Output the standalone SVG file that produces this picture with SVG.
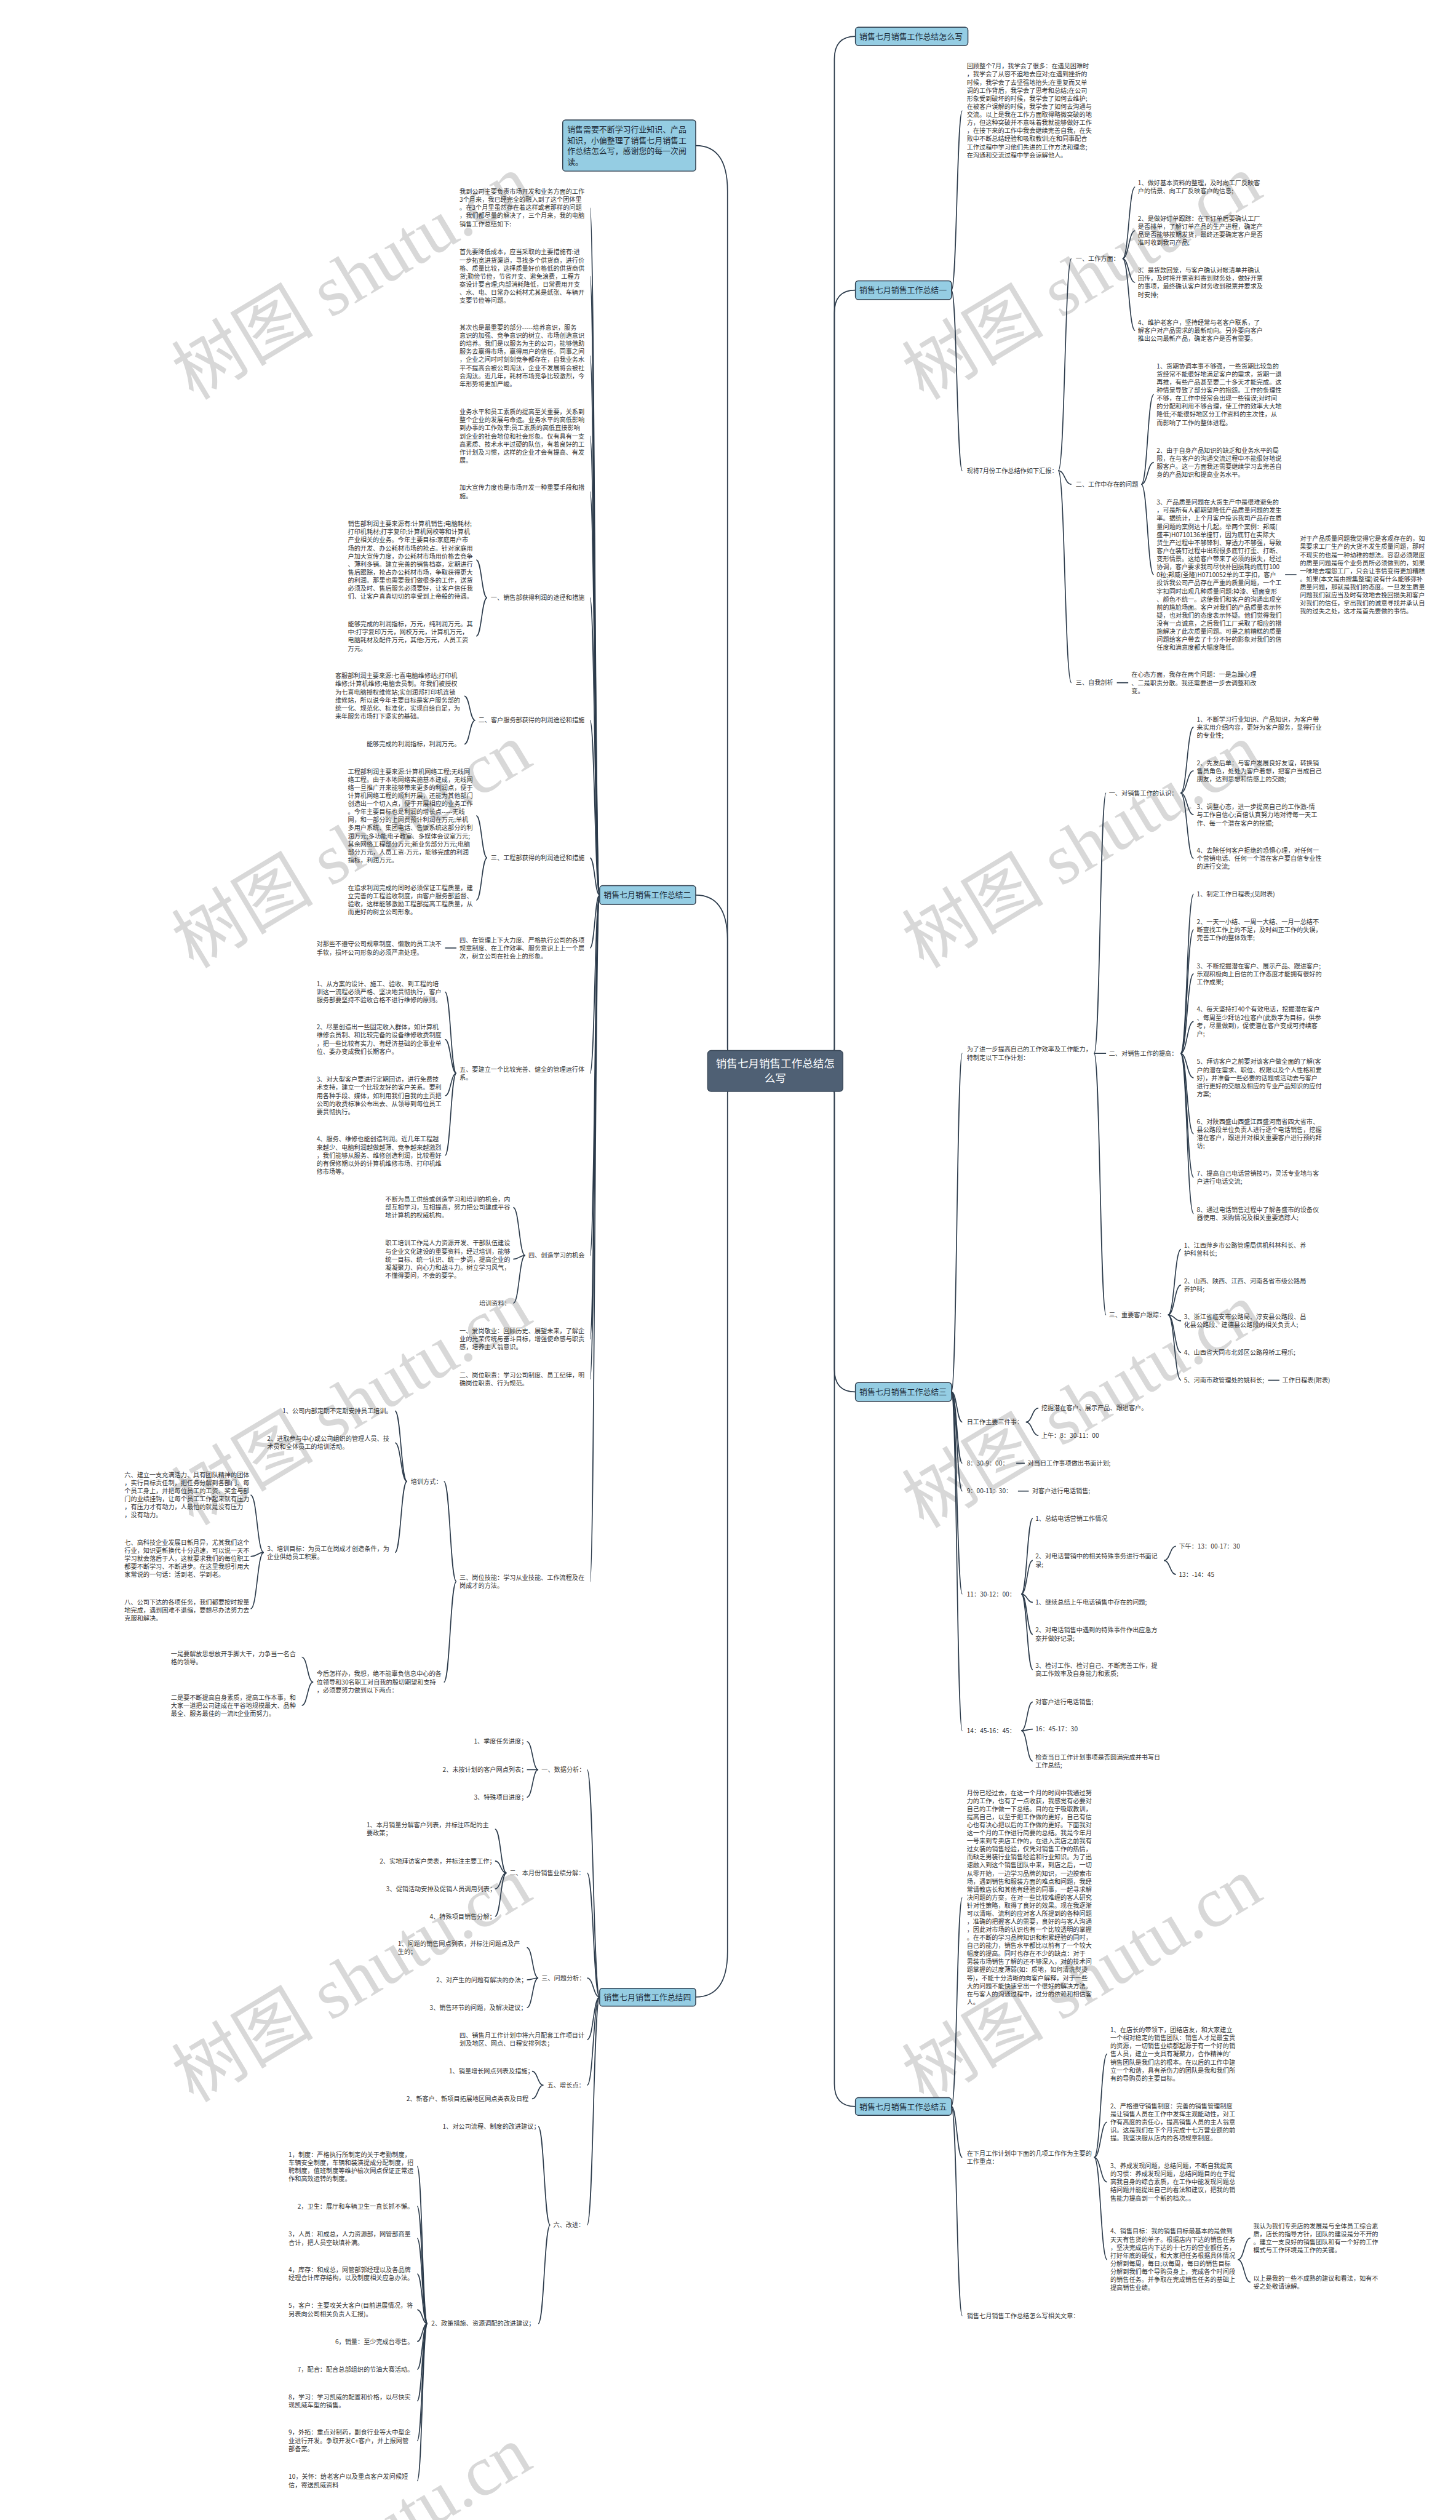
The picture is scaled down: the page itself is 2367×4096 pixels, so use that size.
<svg xmlns="http://www.w3.org/2000/svg" width="2367" height="4096" viewBox="0 0 2367 4096">
<defs><style>
.t{font-family:"Noto Sans CJK SC","Noto Sans",sans-serif;font-size:11px;fill:#333}
.bt{font-family:"Noto Sans CJK SC","Noto Sans",sans-serif;font-size:14px;fill:#1d2b38}
.rt{font-family:"Noto Sans CJK SC","Noto Sans",sans-serif;font-size:19px;fill:#fff}
.box{fill:#95CDE3;stroke:#2C3B4B;stroke-width:1.6}
.c path{fill:none;stroke:#2C3B4B;stroke-width:1.8}
.wm{font-family:"Liberation Serif","Noto Sans CJK SC",serif;font-size:125px;fill:#d8d8d8}
</style></defs>
<rect width="2367" height="4096" fill="#fff"/>
<g transform="scale(0.924)">
<g id="watermarks">
<text class="wm" transform="translate(340 705) rotate(-31)">树图 shutu.cn</text>
<text class="wm" transform="translate(340 1705) rotate(-31)">树图 shutu.cn</text>
<text class="wm" transform="translate(340 2685) rotate(-31)">树图 shutu.cn</text>
<text class="wm" transform="translate(340 3700) rotate(-31)">树图 shutu.cn</text>
<text class="wm" transform="translate(340 4700) rotate(-31)">树图 shutu.cn</text>
<text class="wm" transform="translate(1625 705) rotate(-31)">树图 shutu.cn</text>
<text class="wm" transform="translate(1625 1705) rotate(-31)">树图 shutu.cn</text>
<text class="wm" transform="translate(1625 2690) rotate(-31)">树图 shutu.cn</text>
<text class="wm" transform="translate(1625 3700) rotate(-31)">树图 shutu.cn</text>
</g>
<g id="connectors" class="c">
<path d="M1420 1884 Q1468 1884 1468 1844 L1468 104 Q1468 64 1505 64"/>
<path d="M1420 1884 Q1468 1884 1468 1844 L1468 550.5 Q1468 510.5 1505 510.5"/>
<path d="M1420 1884 Q1468 1884 1468 1924 L1468 2408.5 Q1468 2448.5 1505 2448.5"/>
<path d="M1420 1884 Q1468 1884 1468 1924 L1468 3665.5 Q1468 3705.5 1505 3705.5"/>
<path d="M1310 1884 Q1280 1884 1280 1844 L1280 336 Q1280 256 1224 256"/>
<path d="M1310 1884 Q1280 1884 1280 1844 L1280 1654.5 Q1280 1574.5 1224 1574.5"/>
<path d="M1310 1884 Q1280 1884 1280 1924 L1280 3433 Q1280 3513 1224 3513"/>
<path d="M1674 510.5 C1683.5 510.5 1683.5 195 1693 195"/>
<path d="M1674 510.5 C1683.5 510.5 1683.5 828 1693 828"/>
<path d="M1862 828 C1873.5 828 1873.5 455 1885 455"/>
<path d="M1862 828 C1873.5 828 1873.5 852 1885 852"/>
<path d="M1862 828 C1873.5 828 1873.5 1201 1885 1201"/>
<path d="M1975 455 C1986 455 1986 329 1997 329"/>
<path d="M1975 455 C1986 455 1986 405.8 1997 405.8"/>
<path d="M1975 455 C1986 455 1986 496.8 1997 496.8"/>
<path d="M1975 455 C1986 455 1986 581.4 1997 581.4"/>
<path d="M2008 852 C2019 852 2019 694 2030 694"/>
<path d="M2008 852 C2019 852 2019 813.5 2030 813.5"/>
<path d="M2008 852 C2019 852 2019 1011 2030 1011"/>
<path d="M2261 1011 L2281 1011"/>
<path d="M1965 1201 L1985 1201"/>
<path d="M1674 2448.5 C1683.5 2448.5 1683.5 1853 1693 1853"/>
<path d="M1674 2448.5 C1683.5 2448.5 1683.5 2501.6 1693 2501.6"/>
<path d="M1674 2448.5 C1683.5 2448.5 1683.5 2574 1693 2574"/>
<path d="M1674 2448.5 C1683.5 2448.5 1683.5 2623 1693 2623"/>
<path d="M1674 2448.5 C1683.5 2448.5 1683.5 2804 1693 2804"/>
<path d="M1674 2448.5 C1683.5 2448.5 1683.5 3044.5 1693 3044.5"/>
<path d="M1925 1853 C1935.5 1853 1935.5 1395 1946 1395"/>
<path d="M1925 1853 L1946 1853"/>
<path d="M1925 1853 C1935.5 1853 1935.5 2313 1946 2313"/>
<path d="M2077 1395 C2088.5 1395 2088.5 1279 2100 1279"/>
<path d="M2077 1395 C2088.5 1395 2088.5 1356 2100 1356"/>
<path d="M2077 1395 C2088.5 1395 2088.5 1433 2100 1433"/>
<path d="M2077 1395 C2088.5 1395 2088.5 1510 2100 1510"/>
<path d="M2077 1853 C2088.5 1853 2088.5 1573 2100 1573"/>
<path d="M2077 1853 C2088.5 1853 2088.5 1635.5 2100 1635.5"/>
<path d="M2077 1853 C2088.5 1853 2088.5 1713 2100 1713"/>
<path d="M2077 1853 C2088.5 1853 2088.5 1797 2100 1797"/>
<path d="M2077 1853 C2088.5 1853 2088.5 1896 2100 1896"/>
<path d="M2077 1853 C2088.5 1853 2088.5 1994.5 2100 1994.5"/>
<path d="M2077 1853 C2088.5 1853 2088.5 2071 2100 2071"/>
<path d="M2077 1853 C2088.5 1853 2088.5 2135 2100 2135"/>
<path d="M2055 2313 C2066.5 2313 2066.5 2197.5 2078 2197.5"/>
<path d="M2055 2313 C2066.5 2313 2066.5 2260.5 2078 2260.5"/>
<path d="M2055 2313 C2066.5 2313 2066.5 2323.5 2078 2323.5"/>
<path d="M2055 2313 C2066.5 2313 2066.5 2379.3 2078 2379.3"/>
<path d="M2055 2313 C2066.5 2313 2066.5 2428 2078 2428"/>
<path d="M2231 2428 L2251 2428"/>
<path d="M1805 2501.6 C1816 2501.6 1816 2477 1827 2477"/>
<path d="M1805 2501.6 C1816 2501.6 1816 2525 1827 2525"/>
<path d="M1788 2574 L1803 2574"/>
<path d="M1791 2623 L1810 2623"/>
<path d="M1797 2804 C1807 2804 1807 2671 1817 2671"/>
<path d="M1797 2804 C1807 2804 1807 2745 1817 2745"/>
<path d="M1797 2804 C1807 2804 1807 2818.6 1817 2818.6"/>
<path d="M1797 2804 C1807 2804 1807 2875 1817 2875"/>
<path d="M1797 2804 C1807 2804 1807 2937 1817 2937"/>
<path d="M2048 2745 C2058.5 2745 2058.5 2720 2069 2720"/>
<path d="M2048 2745 C2058.5 2745 2058.5 2769.5 2069 2769.5"/>
<path d="M1797 3044.5 C1807 3044.5 1807 2994 1817 2994"/>
<path d="M1797 3044.5 C1807 3044.5 1807 3041.8 1817 3041.8"/>
<path d="M1797 3044.5 C1807 3044.5 1807 3098 1817 3098"/>
<path d="M1674 3705.5 C1683.5 3705.5 1683.5 3338 1693 3338"/>
<path d="M1674 3705.5 C1683.5 3705.5 1683.5 3795 1693 3795"/>
<path d="M1674 3705.5 C1683.5 3705.5 1683.5 4073.5 1693 4073.5"/>
<path d="M1925 3795 C1936.5 3795 1936.5 3613 1948 3613"/>
<path d="M1925 3795 C1936.5 3795 1936.5 3733 1948 3733"/>
<path d="M1925 3795 C1936.5 3795 1936.5 3838.4 1948 3838.4"/>
<path d="M1925 3795 C1936.5 3795 1936.5 3975 1948 3975"/>
<path d="M2178 3975 C2189 3975 2189 3937 2200 3937"/>
<path d="M2178 3975 C2189 3975 2189 4014.5 2200 4014.5"/>
<path d="M1055 1574.5 C1046.5 1574.5 1046.5 366 1038 366"/>
<path d="M1055 1574.5 C1046.5 1574.5 1046.5 486 1038 486"/>
<path d="M1055 1574.5 C1046.5 1574.5 1046.5 626 1038 626"/>
<path d="M1055 1574.5 C1046.5 1574.5 1046.5 767 1038 767"/>
<path d="M1055 1574.5 C1046.5 1574.5 1046.5 865 1038 865"/>
<path d="M1055 1574.5 C1046.5 1574.5 1046.5 1051.6 1038 1051.6"/>
<path d="M1055 1574.5 C1046.5 1574.5 1046.5 1267 1038 1267"/>
<path d="M1055 1574.5 C1046.5 1574.5 1046.5 1509 1038 1509"/>
<path d="M1055 1574.5 C1046.5 1574.5 1046.5 1667.6 1038 1667.6"/>
<path d="M1055 1574.5 C1046.5 1574.5 1046.5 1888 1038 1888"/>
<path d="M1055 1574.5 C1046.5 1574.5 1046.5 2208.5 1038 2208.5"/>
<path d="M1055 1574.5 C1046.5 1574.5 1046.5 2355.5 1038 2355.5"/>
<path d="M1055 1574.5 C1046.5 1574.5 1046.5 2426 1038 2426"/>
<path d="M1055 1574.5 C1046.5 1574.5 1046.5 2782 1038 2782"/>
<path d="M857 1051.6 C847.5 1051.6 847.5 985 838 985"/>
<path d="M857 1051.6 C847.5 1051.6 847.5 1119 838 1119"/>
<path d="M836 1267 C826.5 1267 826.5 1224.5 817 1224.5"/>
<path d="M836 1267 C826.5 1267 826.5 1309 817 1309"/>
<path d="M857 1509 C847.5 1509 847.5 1435 838 1435"/>
<path d="M857 1509 C847.5 1509 847.5 1583.5 838 1583.5"/>
<path d="M803 1667.6 L783 1667.6"/>
<path d="M803 1888 C793 1888 793 1745 783 1745"/>
<path d="M803 1888 C793 1888 793 1828.5 783 1828.5"/>
<path d="M803 1888 C793 1888 793 1927.5 783 1927.5"/>
<path d="M803 1888 C793 1888 793 2032.5 783 2032.5"/>
<path d="M924 2208.5 C913.5 2208.5 913.5 2124 903 2124"/>
<path d="M924 2208.5 C913.5 2208.5 913.5 2215 903 2215"/>
<path d="M924 2208.5 C913.5 2208.5 913.5 2292.5 903 2292.5"/>
<path d="M803 2782 C792 2782 792 2606 781 2606"/>
<path d="M803 2782 C792 2782 792 2959 781 2959"/>
<path d="M716 2606 C705.5 2606 705.5 2482 695 2482"/>
<path d="M716 2606 C705.5 2606 705.5 2538 695 2538"/>
<path d="M716 2606 C705.5 2606 705.5 2731 695 2731"/>
<path d="M464 2731 C452.5 2731 452.5 2630 441 2630"/>
<path d="M464 2731 C452.5 2731 452.5 2738 441 2738"/>
<path d="M464 2731 C452.5 2731 452.5 2830 441 2830"/>
<path d="M551 2959 C541 2959 541 2915 531 2915"/>
<path d="M551 2959 C541 2959 541 3000 531 3000"/>
<path d="M1055 3513 C1044 3513 1044 3113 1033 3113"/>
<path d="M1055 3513 C1044 3513 1044 3294.7 1033 3294.7"/>
<path d="M1055 3513 C1044 3513 1044 3479.5 1033 3479.5"/>
<path d="M1055 3513 C1044 3513 1044 3588 1033 3588"/>
<path d="M1055 3513 C1044 3513 1044 3668 1033 3668"/>
<path d="M1055 3513 C1044 3513 1044 3914 1033 3914"/>
<path d="M947 3113 C937 3113 937 3063.6 927 3063.6"/>
<path d="M947 3113 L927 3113"/>
<path d="M947 3113 C937 3113 937 3161.6 927 3161.6"/>
<path d="M891 3294.7 C881 3294.7 881 3217.6 871 3217.6"/>
<path d="M891 3294.7 C881 3294.7 881 3273.6 871 3273.6"/>
<path d="M891 3294.7 C881 3294.7 881 3322.6 871 3322.6"/>
<path d="M891 3294.7 C881 3294.7 881 3371 871 3371"/>
<path d="M947 3479.5 C937 3479.5 937 3426 927 3426"/>
<path d="M947 3479.5 C937 3479.5 937 3482.7 927 3482.7"/>
<path d="M947 3479.5 C937 3479.5 937 3531.7 927 3531.7"/>
<path d="M956 3668 C946 3668 946 3643.6 936 3643.6"/>
<path d="M956 3668 C946 3668 946 3692 936 3692"/>
<path d="M968 3914 C957.5 3914 957.5 3741 947 3741"/>
<path d="M968 3914 C957.5 3914 957.5 4087.4 947 4087.4"/>
<path d="M752 4087.4 C743 4087.4 743 3811 734 3811"/>
<path d="M752 4087.4 C743 4087.4 743 3881 734 3881"/>
<path d="M752 4087.4 C743 4087.4 743 3937.5 734 3937.5"/>
<path d="M752 4087.4 C743 4087.4 743 4000 734 4000"/>
<path d="M752 4087.4 C743 4087.4 743 4063 734 4063"/>
<path d="M752 4087.4 C743 4087.4 743 4119 734 4119"/>
<path d="M752 4087.4 C743 4087.4 743 4168 734 4168"/>
<path d="M752 4087.4 C743 4087.4 743 4223.5 734 4223.5"/>
<path d="M752 4087.4 C743 4087.4 743 4293.5 734 4293.5"/>
<path d="M752 4087.4 C743 4087.4 743 4364 734 4364"/>
</g>

<g id="root"><rect x="1245" y="1848" width="238" height="72" rx="6" fill="#4F6074" stroke="#3A4858" stroke-width="1.5"/><text class="rt" text-anchor="middle"><tspan x="1364" y="1878">销售七月销售工作总结怎</tspan><tspan x="1364" y="1904">么写</tspan></text></g>
<g id="b-howto"><rect class="box" x="1505" y="48" width="198" height="32" rx="5"/><text class="bt" x="1512" y="69">销售七月销售工作总结怎么写</text></g>
<g id="b1"><rect class="box" x="1505" y="494" width="169" height="33" rx="5"/><text class="bt" x="1512" y="515.5">销售七月销售工作总结一</text></g>
<g id="b3"><rect class="box" x="1505" y="2432" width="169" height="33" rx="5"/><text class="bt" x="1512" y="2453.5">销售七月销售工作总结三</text></g>
<g id="b5"><rect class="box" x="1505" y="3690" width="169" height="31" rx="5"/><text class="bt" x="1512" y="3710.5">销售七月销售工作总结五</text></g>
<g id="b2"><rect class="box" x="1055" y="1558" width="169" height="33" rx="5"/><text class="bt" x="1062" y="1579.5">销售七月销售工作总结二</text></g>
<g id="b4"><rect class="box" x="1055" y="3497.5" width="169" height="31.5" rx="5"/><text class="bt" x="1062" y="3518">销售七月销售工作总结四</text></g>
<g id="intro-box"><rect class="box" x="990" y="211" width="234" height="90" rx="5"/><text class="bt"><tspan x="998" y="233">销售需要不断学习行业知识、产品</tspan><tspan x="998" y="252">知识，小偏整理了销售七月销售工</tspan><tspan x="998" y="271">作总结怎么写，感谢您的每一次阅</tspan><tspan x="998" y="290">读。</tspan></text></g>

<g id="r1-intro"><text class="t" x="1701" y="120.5"><tspan>回顾整个7月，我学会了很多：在遇见困难时</tspan><tspan x="1701" dy="14.2">，我学会了从容不迫地去应对;在遇到挫折的</tspan><tspan x="1701" dy="14.2">时候，我学会了去坚强地抬头;在重复而又单</tspan><tspan x="1701" dy="14.2">调的工作背后，我学会了思考和总结;在公司</tspan><tspan x="1701" dy="14.2">形象受到破坏的时候，我学会了如何去维护;</tspan><tspan x="1701" dy="14.2">在被客户误解的时候，我学会了如何去沟通与</tspan><tspan x="1701" dy="14.2">交流。以上是我在工作方面取得略微突破的地</tspan><tspan x="1701" dy="14.2">方，但这种突破并不意味着我就能够做好工作</tspan><tspan x="1701" dy="14.2">，在接下来的工作中我会继续完善自我，在失</tspan><tspan x="1701" dy="14.2">败中不断总结经验和吸取教训;在和同事配合</tspan><tspan x="1701" dy="14.2">工作过程中学习他们先进的工作方法和理念;</tspan><tspan x="1701" dy="14.2">在沟通和交流过程中学会谅解他人。</tspan></text></g>
<g id="r1-report"><text class="t" x="1701" y="832.4">现将7月份工作总结作如下汇报：</text></g>
<g id="r1-a"><text class="t" x="1892.6" y="459">一、工作方面：</text></g>
<g id="r1-a1"><text class="t" x="2002" y="326"><tspan>1、做好基本资料的整理，及时向工厂反映客</tspan><tspan x="2002" dy="14.2">户的情景、向工厂反映客户的信息;</tspan></text></g>
<g id="r1-a2"><text class="t" x="2002" y="388.6"><tspan>2、是做好订单跟踪：在下订单后要确认工厂</tspan><tspan x="2002" dy="14.2">是否排单，了解订单产品的生产进程，确定产</tspan><tspan x="2002" dy="14.2">品是否能够按期发货，最终还要确定客户是否</tspan><tspan x="2002" dy="14.2">准时收到我司产品;</tspan></text></g>
<g id="r1-a3"><text class="t" x="2002" y="479.6"><tspan>3、是货款回笼，与客户确认对帐清单并确认</tspan><tspan x="2002" dy="14.2">回传，及时将开票资料寄到财务处，做好开票</tspan><tspan x="2002" dy="14.2">的事项，最终确认客户财务收到税票并要求及</tspan><tspan x="2002" dy="14.2">时安排;</tspan></text></g>
<g id="r1-a4"><text class="t" x="2002" y="571"><tspan>4、维护老客户，坚持经常与老客户联系，了</tspan><tspan x="2002" dy="14.2">解客户对产品需求的最新动向。另外要向客户</tspan><tspan x="2002" dy="14.2">推出公司最新产品，确定客户是否有需要。</tspan></text></g>
<g id="r1-b"><text class="t" x="1892.6" y="855.6">二、工作中存在的问题</text></g>
<g id="r1-b1"><text class="t" x="2035" y="648"><tspan>1、货期协调本事不够强，一些货期比较急的</tspan><tspan x="2035" dy="14.2">货经常不能很好地满足客户的需求，货期一退</tspan><tspan x="2035" dy="14.2">再推，有些产品甚至要二十多天才能完成。这</tspan><tspan x="2035" dy="14.2">种情景导致了部分客户的抱怨。工作的条理性</tspan><tspan x="2035" dy="14.2">不够，在工作中经常会出现一些错误;对时间</tspan><tspan x="2035" dy="14.2">的分配和利用不够合理，使工作的效率大大地</tspan><tspan x="2035" dy="14.2">降低;不能很好地区分工作资料的主次性，从</tspan><tspan x="2035" dy="14.2">而影响了工作的整体进程。</tspan></text></g>
<g id="r1-b2"><text class="t" x="2035" y="796"><tspan>2、由于自身产品知识的缺乏和业务水平的局</tspan><tspan x="2035" dy="14.2">限，在与客户的沟通交流过程中不能很好地说</tspan><tspan x="2035" dy="14.2">服客户。这一方面我还需要继续学习去完善自</tspan><tspan x="2035" dy="14.2">身的产品知识和提高业务水平。</tspan></text></g>
<g id="r1-b3"><text class="t" x="2035" y="887.7"><tspan>3、产品质量问题在大货生产中是很难避免的</tspan><tspan x="2035" dy="14.2">，可是所有人都期望降低产品质量问题的发生</tspan><tspan x="2035" dy="14.2">率。据统计，上个月客户投诉我司产品存在质</tspan><tspan x="2035" dy="14.2">量问题的案例达十几起。举两个案例：邦威(</tspan><tspan x="2035" dy="14.2">盛丰)H0710136单撞钉，因为底钉在实际大</tspan><tspan x="2035" dy="14.2">货生产过程中不够锋利、穿透力不够强，导致</tspan><tspan x="2035" dy="14.2">客户在装钉过程中出现很多底钉打歪、打断、</tspan><tspan x="2035" dy="14.2">变形情景。这给客户带来了必须的损失，经过</tspan><tspan x="2035" dy="14.2">协调，客户要求我司尽快补回损耗的底钉100</tspan><tspan x="2035" dy="14.2">0粒;邦威(圣隆)H0710052单的工字扣，客户</tspan><tspan x="2035" dy="14.2">投诉我公司产品存在严重的质量问题，一个工</tspan><tspan x="2035" dy="14.2">字扣同时出现几种质量问题:掉漆、钮面变形</tspan><tspan x="2035" dy="14.2">、颜色不统一。这使我们和客户的沟通出现空</tspan><tspan x="2035" dy="14.2">前的尴尬场面。客户对我们的产品质量表示怀</tspan><tspan x="2035" dy="14.2">疑，也对我们的态度表示怀疑。他们觉得我们</tspan><tspan x="2035" dy="14.2">没有一点诚意，之后我们工厂采取了相应的措</tspan><tspan x="2035" dy="14.2">施解决了此次质量问题。可是之前糟糕的质量</tspan><tspan x="2035" dy="14.2">问题给客户带去了十分不好的影象对我们的信</tspan><tspan x="2035" dy="14.2">任度和满意度都大幅度降低。</tspan></text></g>
<g id="r1-b3a"><text class="t" x="2287" y="951.6"><tspan>对于产品质量问题我觉得它是客观存在的，如</tspan><tspan x="2287" dy="14.2">果要求工厂生产的大货不发生质量问题，那时</tspan><tspan x="2287" dy="14.2">不现实的也是一种幼稚的想法。容忍必须限度</tspan><tspan x="2287" dy="14.2">的质量问题是每个业务员所必须做到的，如果</tspan><tspan x="2287" dy="14.2">一味地去埋怨工厂，只会让事情变得更加糟糕</tspan><tspan x="2287" dy="14.2">。如果(本文是由搜集整理)说有什么能够弥补</tspan><tspan x="2287" dy="14.2">质量问题，那就是我们的态度。一旦发生质量</tspan><tspan x="2287" dy="14.2">问题我们就应当及时有效地去挽回损失和客户</tspan><tspan x="2287" dy="14.2">对我们的信任，拿出我们的诚意寻找并承认自</tspan><tspan x="2287" dy="14.2">我的过失之处，这才是首先要做的事情。</tspan></text></g>
<g id="r1-c"><text class="t" x="1892.6" y="1205">三、自我剖析</text></g>
<g id="r1-c1"><text class="t" x="1990.6" y="1191"><tspan>在心态方面，我存在两个问题：一是急躁心理</tspan><tspan x="1990.6" dy="14.2">、二是职责分散。我还需要进一步去调整和改</tspan><tspan x="1990.6" dy="14.2">变。</tspan></text></g>

<g id="r3-plan"><text class="t" x="1701" y="1850"><tspan>为了进一步提高自己的工作效率及工作能力，</tspan><tspan x="1701" dy="14.2">特制定以下工作计划：</tspan></text></g>
<g id="r3-a"><text class="t" x="1951" y="1399">一、对销售工作的认识：</text></g>
<g id="r3-a1"><text class="t" x="2105.6" y="1269"><tspan>1、不断学习行业知识、产品知识，为客户带</tspan><tspan x="2105.6" dy="14.2">来实用介绍内容，更好为客户服务，显得行业</tspan><tspan x="2105.6" dy="14.2">的专业性;</tspan></text></g>
<g id="r3-a2"><text class="t" x="2105.6" y="1346"><tspan>2、先友后单：与客户发展良好友谊，转换销</tspan><tspan x="2105.6" dy="14.2">售员角色，处处为客户着想，把客户当成自己</tspan><tspan x="2105.6" dy="14.2">朋友，达到思想和情感上的交融;</tspan></text></g>
<g id="r3-a3"><text class="t" x="2105.6" y="1423.5"><tspan>3、调整心态，进一步提高自己的工作激-情</tspan><tspan x="2105.6" dy="14.2">与工作自信心;百倍认真努力地对待每一天工</tspan><tspan x="2105.6" dy="14.2">作、每一个潜在客户的挖掘;</tspan></text></g>
<g id="r3-a4"><text class="t" x="2105.6" y="1499.8"><tspan>4、去除任何客户拒绝的恐惧心理，对任何一</tspan><tspan x="2105.6" dy="14.2">个营销电话、任何一个潜在客户要自信专业性</tspan><tspan x="2105.6" dy="14.2">的进行交流;</tspan></text></g>
<g id="r3-b"><text class="t" x="1951" y="1857">二、对销售工作的提高：</text></g>
<g id="r3-b1"><text class="t" x="2105.6" y="1577">1、制定工作日程表;(见附表)</text></g>
<g id="r3-b2"><text class="t" x="2105.6" y="1625"><tspan>2、一天一小结、一周一大结、一月一总结不</tspan><tspan x="2105.6" dy="14.2">断查找工作上的不足，及时纠正工作的失误，</tspan><tspan x="2105.6" dy="14.2">完善工作的整体效率;</tspan></text></g>
<g id="r3-b3"><text class="t" x="2105.6" y="1703"><tspan>3、不断挖掘潜在客户、展示产品、跟进客户;</tspan><tspan x="2105.6" dy="14.2">乐观积极向上自信的工作态度才能拥有很好的</tspan><tspan x="2105.6" dy="14.2">工作成果;</tspan></text></g>
<g id="r3-b4"><text class="t" x="2105.6" y="1779.7"><tspan>4、每天坚持打40个有效电话，挖掘潜在客户</tspan><tspan x="2105.6" dy="14.2">、每周至少拜访2位客户(此数字为目标，供参</tspan><tspan x="2105.6" dy="14.2">考，尽量做到)，促使潜在客户变成可持续客</tspan><tspan x="2105.6" dy="14.2">户;</tspan></text></g>
<g id="r3-b5"><text class="t" x="2105.6" y="1871.7"><tspan>5、拜访客户之前要对该客户做全面的了解(客</tspan><tspan x="2105.6" dy="14.2">户的潜在需求、职位、权限以及个人性格和爱</tspan><tspan x="2105.6" dy="14.2">好)，并准备一些必要的话题或活动去与客户</tspan><tspan x="2105.6" dy="14.2">进行更好的交融及相应的专业产品知识的应付</tspan><tspan x="2105.6" dy="14.2">方案;</tspan></text></g>
<g id="r3-b6"><text class="t" x="2105.6" y="1977"><tspan>6、对陕西盛山西盛江西盛河南省四大省市、</tspan><tspan x="2105.6" dy="14.2">县公路段单位负责人进行逐个电话销售，挖掘</tspan><tspan x="2105.6" dy="14.2">潜在客户，跟进并对相关重要客户进行预约拜</tspan><tspan x="2105.6" dy="14.2">访;</tspan></text></g>
<g id="r3-b7"><text class="t" x="2105.6" y="2068"><tspan>7、提高自己电话营销技巧，灵活专业地与客</tspan><tspan x="2105.6" dy="14.2">户进行电话交流;</tspan></text></g>
<g id="r3-b8"><text class="t" x="2105.6" y="2131.5"><tspan>8、通过电话销售过程中了解各盛市的设备仪</tspan><tspan x="2105.6" dy="14.2">器使用、采购情况及相关重要追踪人;</tspan></text></g>
<g id="r3-c"><text class="t" x="1951" y="2317">三、重要客户跟踪：</text></g>
<g id="r3-c1"><text class="t" x="2083" y="2194.4"><tspan>1、江西萍乡市公路管理局供机科林科长、养</tspan><tspan x="2083" dy="14.2">护科曾科长;</tspan></text></g>
<g id="r3-c2"><text class="t" x="2083" y="2257.4"><tspan>2、山西、陕西、江西、河南各省市级公路局</tspan><tspan x="2083" dy="14.2">养护科;</tspan></text></g>
<g id="r3-c3"><text class="t" x="2083" y="2320.3"><tspan>3、浙江省临安市公路局、淳安县公路段、昌</tspan><tspan x="2083" dy="14.2">化县公路段、建德县公路段的相关负责人;</tspan></text></g>
<g id="r3-c4"><text class="t" x="2083" y="2383.3">4、山西省大同市北郊区公路段桥工程乐;</text></g>
<g id="r3-c5"><text class="t" x="2083" y="2432">5、河南市政管理处的姚科长;</text></g>
<g id="r3-c5a"><text class="t" x="2256" y="2432">工作日程表(附表)</text></g>
<g id="r3-d"><text class="t" x="1701" y="2505.6">日工作主要三件事：</text></g>
<g id="r3-d1"><text class="t" x="1832" y="2481">挖掘潜在客户、展示产品、跟进客户。</text></g>
<g id="r3-d2"><text class="t" x="1832" y="2529">上午：8：30-11：00</text></g>
<g id="r3-e"><text class="t" x="1701" y="2578">8：30-9：00：</text></g>
<g id="r3-e1"><text class="t" x="1808" y="2578">对当日工作事项做出书面计划;</text></g>
<g id="r3-f"><text class="t" x="1701" y="2627">9：00-11：30：</text></g>
<g id="r3-f1"><text class="t" x="1816" y="2627">对客户进行电话销售;</text></g>
<g id="r3-g"><text class="t" x="1701" y="2808">11：30-12：00：</text></g>
<g id="r3-g1"><text class="t" x="1821.6" y="2675">1、总结电话营销工作情况</text></g>
<g id="r3-g2"><text class="t" x="1821.6" y="2741.8"><tspan>2、对电话营销中的相关特殊事务进行书面记</tspan><tspan x="1821.6" dy="14.2">录;</tspan></text></g>
<g id="r3-g2a"><text class="t" x="2074" y="2724">下午：13：00-17：30</text></g>
<g id="r3-g2b"><text class="t" x="2074" y="2773.5">13：-14：45</text></g>
<g id="r3-g3"><text class="t" x="1821.6" y="2822.6">1、继续总结上午电话销售中存在的问题;</text></g>
<g id="r3-g4"><text class="t" x="1821.6" y="2871.7"><tspan>2、对电话销售中遇到的特殊事件作出应急方</tspan><tspan x="1821.6" dy="14.2">案并做好记录;</tspan></text></g>
<g id="r3-g5"><text class="t" x="1821.6" y="2934"><tspan>3、检讨工作、检讨自己、不断完善工作，提</tspan><tspan x="1821.6" dy="14.2">高工作效率及自身能力和素质;</tspan></text></g>
<g id="r3-h"><text class="t" x="1701" y="3048.5">14：45-16：45：</text></g>
<g id="r3-h1"><text class="t" x="1821.6" y="2998">对客户进行电话销售;</text></g>
<g id="r3-h2"><text class="t" x="1821.6" y="3045.8">16：45-17：30</text></g>
<g id="r3-h3"><text class="t" x="1821.6" y="3095"><tspan>检查当日工作计划事项是否圆满完成并书写日</tspan><tspan x="1821.6" dy="14.2">工作总结;</tspan></text></g>

<g id="r5-a"><text class="t" x="1701" y="3157.8"><tspan>月份已经过去，在这一个月的时间中我通过努</tspan><tspan x="1701" dy="14.15">力的工作，也有了一点收获，我感觉有必要对</tspan><tspan x="1701" dy="14.15">自己的工作做一下总结。目的在于吸取教训，</tspan><tspan x="1701" dy="14.15">提高自己，以至于把工作做的更好，自己有信</tspan><tspan x="1701" dy="14.15">心也有决心把以后的工作做的更好。下面我对</tspan><tspan x="1701" dy="14.15">这一个月的工作进行简要的总结。我是今年月</tspan><tspan x="1701" dy="14.15">一号来到专卖店工作的，在进入贵店之前我有</tspan><tspan x="1701" dy="14.15">过女装的销售经验，仅凭对销售工作的热情，</tspan><tspan x="1701" dy="14.15">而缺乏男装行业销售经验和行业知识。为了迅</tspan><tspan x="1701" dy="14.15">速融入到这个销售团队中来，到店之后，一切</tspan><tspan x="1701" dy="14.15">从零开始，一边学习品牌的知识，一边摸索市</tspan><tspan x="1701" dy="14.15">场，遇到销售和服装方面的难点和问题，我经</tspan><tspan x="1701" dy="14.15">常请教店长和其他有经验的同事，一起寻求解</tspan><tspan x="1701" dy="14.15">决问题的方案，在对一些比较难缠的客人研究</tspan><tspan x="1701" dy="14.15">针对性策略，取得了良好的效果。现在我逐渐</tspan><tspan x="1701" dy="14.15">可以清晰、流利的应对客人所提到的各种问题</tspan><tspan x="1701" dy="14.15">，准确的把握客人的需要，良好的与客人沟通</tspan><tspan x="1701" dy="14.15">，因此对市场的认识也有一个比较透明的掌握</tspan><tspan x="1701" dy="14.15">。在不断的学习品牌知识和积累经验的同时，</tspan><tspan x="1701" dy="14.15">自己的能力，销售水平都比以前有了一个较大</tspan><tspan x="1701" dy="14.15">幅度的提高。同时也存在不少的缺点：对于</tspan><tspan x="1701" dy="14.15">男装市场销售了解的还不够深入，对的技术问</tspan><tspan x="1701" dy="14.15">题掌握的过度薄弱(如：质地，如何清洗熨烫</tspan><tspan x="1701" dy="14.15">等)，不能十分清晰的向客户解释，对于一些</tspan><tspan x="1701" dy="14.15">大的问题不能快速拿出一个很好的解决方法。</tspan><tspan x="1701" dy="14.15">在与客人的沟通过程中，过分的依赖和相信客</tspan><tspan x="1701" dy="14.15">人。</tspan></text></g>
<g id="r5-b"><text class="t" x="1701" y="3792"><tspan>在下月工作计划中下面的几项工作作为主要的</tspan><tspan x="1701" dy="14.2">工作重点：</tspan></text></g>
<g id="r5-b1"><text class="t" x="1953.4" y="3574.8"><tspan>1、在店长的带领下，团结店友，和大家建立</tspan><tspan x="1953.4" dy="14.2">一个相对稳定的销售团队：销售人才是最宝贵</tspan><tspan x="1953.4" dy="14.2">的资源，一切销售业绩都起源于有一个好的销</tspan><tspan x="1953.4" dy="14.2">售人员，建立一支具有凝聚力，合作精神的'</tspan><tspan x="1953.4" dy="14.2">销售团队是我们店的根本。在以后的工作中建</tspan><tspan x="1953.4" dy="14.2">立一个和谐，具有杀伤力的团队是我和我们所</tspan><tspan x="1953.4" dy="14.2">有的导购员的主要目标。</tspan></text></g>
<g id="r5-b2"><text class="t" x="1953.4" y="3708.7"><tspan>2、严格遵守销售制度：完善的销售管理制度</tspan><tspan x="1953.4" dy="14.2">是让销售人员在工作中发挥主观能动性，对工</tspan><tspan x="1953.4" dy="14.2">作有高度的责任心，提高销售人员的主人翁意</tspan><tspan x="1953.4" dy="14.2">识。这是我们在下个月完成十七万营业额的前</tspan><tspan x="1953.4" dy="14.2">提。我坚决服从店内的各项规章制度。</tspan></text></g>
<g id="r5-b3"><text class="t" x="1953.4" y="3814"><tspan>3、养成发现问题，总结问题，不断自我提高</tspan><tspan x="1953.4" dy="14.2">的习惯：养成发现问题，总结问题目的在于提</tspan><tspan x="1953.4" dy="14.2">高我自身的综合素质，在工作中能发现问题总</tspan><tspan x="1953.4" dy="14.2">结问题并能提出自己的看法和建议，把我的销</tspan><tspan x="1953.4" dy="14.2">售能力提高到一个新的档次。。</tspan></text></g>
<g id="r5-b4"><text class="t" x="1953.4" y="3929"><tspan>4、销售目标：我的销售目标最基本的是做到</tspan><tspan x="1953.4" dy="14.2">天天有售货的单子。根据店内下达的销售任务</tspan><tspan x="1953.4" dy="14.2">，坚决完成店内下达的十七万的营业额任务，</tspan><tspan x="1953.4" dy="14.2">打好年底的硬仗，和大家把任务根据具体情况</tspan><tspan x="1953.4" dy="14.2">分解到每周，每日;以每周，每日的销售目标</tspan><tspan x="1953.4" dy="14.2">分解到我们每个导购员身上，完成各个时间段</tspan><tspan x="1953.4" dy="14.2">的销售任务。并争取在完成销售任务的基础上</tspan><tspan x="1953.4" dy="14.2">提高销售业绩。</tspan></text></g>
<g id="r5-b4a"><text class="t" x="2205" y="3920"><tspan>我认为我们专卖店的发展是与全体员工综合素</tspan><tspan x="2205" dy="14.2">质，店长的指导方针，团队的建设是分不开的</tspan><tspan x="2205" dy="14.2">。建立一支良好的销售团队和有一个好的工作</tspan><tspan x="2205" dy="14.2">模式与工作环境是工作的关键。</tspan></text></g>
<g id="r5-b4b"><text class="t" x="2205" y="4011.4"><tspan>以上是我的一些不成熟的建议和看法，如有不</tspan><tspan x="2205" dy="14.2">妥之处敬请谅解。</tspan></text></g>
<g id="r5-c"><text class="t" x="1701" y="4077.5">销售七月销售工作总结怎么写相关文章：</text></g>

<g id="l2-p1"><text class="t" x="808.5" y="341"><tspan>我到公司主要负责市场开发和业务方面的工作</tspan><tspan x="808.5" dy="14.2">3个月来，我已经完全的融入到了这个团体里</tspan><tspan x="808.5" dy="14.2">。在3个月里虽然存在着这样或者那样的问题</tspan><tspan x="808.5" dy="14.2">，我们都尽量的解决了，三个月来，我的电脑</tspan><tspan x="808.5" dy="14.2">销售工作总结如下:</tspan></text></g>
<g id="l2-p2"><text class="t" x="808.5" y="447.5"><tspan>首先要降低成本，应当采取的主要措施有:进</tspan><tspan x="808.5" dy="14.2">一步拓宽进货渠道，寻找多个供货商，进行价</tspan><tspan x="808.5" dy="14.2">格、质量比较，选择质量好价格低的供货商供</tspan><tspan x="808.5" dy="14.2">货;勤俭节俭，节省开支、避免浪费，工程方</tspan><tspan x="808.5" dy="14.2">案设计要合理;内部消耗降低，日常费用开支</tspan><tspan x="808.5" dy="14.2">、水、电、日常办公耗材尤其是纸张、车辆开</tspan><tspan x="808.5" dy="14.2">支要节俭等问题。</tspan></text></g>
<g id="l2-p3"><text class="t" x="808.5" y="580"><tspan>其次也是最重要的部分-----培养意识，服务</tspan><tspan x="808.5" dy="14.2">意识的加强、竞争意识的树立、市场创造意识</tspan><tspan x="808.5" dy="14.2">的培养。我们是以服务为主的公司，能够借助</tspan><tspan x="808.5" dy="14.2">服务去赢得市场，赢得用户的信任。同事之间</tspan><tspan x="808.5" dy="14.2">，企业之间时时刻刻竞争都存在，自我业务水</tspan><tspan x="808.5" dy="14.2">平不提高会被公司淘汰，企业不发展将会被社</tspan><tspan x="808.5" dy="14.2">会淘汰。近几年，耗材市场竞争比较激烈，今</tspan><tspan x="808.5" dy="14.2">年形势将更加严峻。</tspan></text></g>
<g id="l2-p4"><text class="t" x="808.5" y="728.6"><tspan>业务水平和员工素质的提高至关重要，关系到</tspan><tspan x="808.5" dy="14.2">整个企业的发展与命运。业务水平的高低影响</tspan><tspan x="808.5" dy="14.2">到办事的工作效率;员工素质的高低直接影响</tspan><tspan x="808.5" dy="14.2">到企业的社会地位和社会形象。仅有具有一支</tspan><tspan x="808.5" dy="14.2">高素质、技术水平过硬的队伍，有着良好的工</tspan><tspan x="808.5" dy="14.2">作计划及习惯，这样的企业才会有提高、有发</tspan><tspan x="808.5" dy="14.2">展。</tspan></text></g>
<g id="l2-p5"><text class="t" x="808.5" y="862"><tspan>加大宣传力度也是市场开发一种重要手段和措</tspan><tspan x="808.5" dy="14.2">施。</tspan></text></g>
<g id="l2-a"><text class="t" x="863.5" y="1055.6">一、销售部获得利润的途径和措施</text></g>
<g id="l2-a1"><text class="t" x="612" y="925.6"><tspan>销售部利润主要来源有:计算机销售;电脑耗材;</tspan><tspan x="612" dy="14.2">打印机耗材;打字复印;计算机网校等和计算机</tspan><tspan x="612" dy="14.2">产业相关的业务。今年主要目标:家庭用户市</tspan><tspan x="612" dy="14.2">场的开发、办公耗材市场的抢占。针对家庭用</tspan><tspan x="612" dy="14.2">户加大宣传力度，办公耗材市场用价格去竞争</tspan><tspan x="612" dy="14.2">、薄利多销。建立完善的销售档案，定期进行</tspan><tspan x="612" dy="14.2">售后跟踪，抢占办公耗材市场，争取获得更大</tspan><tspan x="612" dy="14.2">的利润。那里也需要我们做很多的工作，送货</tspan><tspan x="612" dy="14.2">必须及时、售后服务必须要好，让客户信任我</tspan><tspan x="612" dy="14.2">们、让客户真真切切的享受到上帝般的待遇。</tspan></text></g>
<g id="l2-a2"><text class="t" x="612" y="1102"><tspan>能够完成的利润指标，万元，纯利润万元。其</tspan><tspan x="612" dy="14.2">中:打字复印万元，网校万元，计算机万元，</tspan><tspan x="612" dy="14.2">电脑耗材及配件万元，其他:万元，人员工资</tspan><tspan x="612" dy="14.2">万元。</tspan></text></g>
<g id="l2-b"><text class="t" x="841.6" y="1271">二、客户服务部获得的利润途径和措施</text></g>
<g id="l2-b1"><text class="t" x="589.7" y="1193"><tspan>客服部利润主要来源:七喜电脑维修站;打印机</tspan><tspan x="589.7" dy="14.2">维修;计算机维修;电脑会员制。年我们被授权</tspan><tspan x="589.7" dy="14.2">为七喜电脑授权维修站;实创润邦打印机连锁</tspan><tspan x="589.7" dy="14.2">维修站，所以说今年主要目标是客户服务部的</tspan><tspan x="589.7" dy="14.2">统一化、规范化、标准化，实现自给自足，为</tspan><tspan x="589.7" dy="14.2">来年服务市场打下坚实的基础。</tspan></text></g>
<g id="l2-b2"><text class="t" x="645" y="1313">能够完成的利润指标，利润万元。</text></g>
<g id="l2-c"><text class="t" x="863.5" y="1513">三、工程部获得的利润途径和措施</text></g>
<g id="l2-c1"><text class="t" x="612" y="1361"><tspan>工程部利润主要来源:计算机网络工程;无线网</tspan><tspan x="612" dy="14.2">络工程。由于本地网络实施基本建成，无线网</tspan><tspan x="612" dy="14.2">络一旦推广开来能够带来更多的利润点，便于</tspan><tspan x="612" dy="14.2">计算机网络工程的顺利开展，还能为其他部门</tspan><tspan x="612" dy="14.2">创造出一个切入点，便于开展相应的业务工作</tspan><tspan x="612" dy="14.2">。今年主要目标也是利润的增长点-----无线</tspan><tspan x="612" dy="14.2">网，和一部分的上网费预计利润在万元;单机</tspan><tspan x="612" dy="14.2">多用户系统、集团电话、售饭系统这部分的利</tspan><tspan x="612" dy="14.2">润万元;多功能电子教室、多媒体会议室万元;</tspan><tspan x="612" dy="14.2">其余网络工程部分万元;新业务部分万元;电脑</tspan><tspan x="612" dy="14.2">部分万元，人员工资-万元，能够完成的利润</tspan><tspan x="612" dy="14.2">指标，利润万元。</tspan></text></g>
<g id="l2-c2"><text class="t" x="612" y="1566"><tspan>在追求利润完成的同时必须保证工程质量，建</tspan><tspan x="612" dy="14.2">立完善的工程验收制度，由客户服务部监督、</tspan><tspan x="612" dy="14.2">验收，这样能够激励工程部提高工程质量，从</tspan><tspan x="612" dy="14.2">而更好的树立公司形象。</tspan></text></g>
<g id="l2-d"><text class="t" x="808.5" y="1657.6"><tspan>四、在管理上下大力度、严格执行公司的各项</tspan><tspan x="808.5" dy="14.2">规章制度、在工作效率、服务意识上上一个层</tspan><tspan x="808.5" dy="14.2">次，树立公司在社会上的形象。</tspan></text></g>
<g id="l2-d1"><text class="t" x="557" y="1665"><tspan>对那些不遵守公司规章制度、懒散的员工决不</tspan><tspan x="557" dy="14.2">手软，损坏公司形象的必须严肃处理。</tspan></text></g>
<g id="l2-e"><text class="t" x="808.5" y="1885"><tspan>五、要建立一个比较完善、健全的管理运行体</tspan><tspan x="808.5" dy="14.2">系。</tspan></text></g>
<g id="l2-e1"><text class="t" x="557" y="1734.5"><tspan>1、从方案的设计、施工、验收、到工程的培</tspan><tspan x="557" dy="14.2">训这一流程必须严格、坚决地贯彻执行，客户</tspan><tspan x="557" dy="14.2">服务部要坚持不验收合格不进行维修的原则。</tspan></text></g>
<g id="l2-e2"><text class="t" x="557" y="1811"><tspan>2、尽量创造出一些固定收入群体，如计算机</tspan><tspan x="557" dy="14.2">维修会员制、和比较完备的设备维修收费制度</tspan><tspan x="557" dy="14.2">，把一些比较有实力、有经济基础的企事业单</tspan><tspan x="557" dy="14.2">位、委办变成我们长期客户。</tspan></text></g>
<g id="l2-e3"><text class="t" x="557" y="1903"><tspan>3、对大型客户要进行定期回访，进行免费技</tspan><tspan x="557" dy="14.2">术支持，建立一个比较友好的客户关系。要利</tspan><tspan x="557" dy="14.2">用各种手段、媒体，如利用我们自我的主页把</tspan><tspan x="557" dy="14.2">公司的收费标准公布出去、从领导到每位员工</tspan><tspan x="557" dy="14.2">要贯彻执行。</tspan></text></g>
<g id="l2-e4"><text class="t" x="557" y="2008"><tspan>4、服务、维修也能创造利润。近几年工程越</tspan><tspan x="557" dy="14.2">来越少、电脑利润越做越薄、竞争越来越激烈</tspan><tspan x="557" dy="14.2">，我们能够从服务、维修创造利润，比较看好</tspan><tspan x="557" dy="14.2">的有保修期以外的计算机维修市场、打印机维</tspan><tspan x="557" dy="14.2">修市场等。</tspan></text></g>
<g id="l2-f"><text class="t" x="929.7" y="2212.5">四、创造学习的机会</text></g>
<g id="l2-f1"><text class="t" x="677.8" y="2113.5"><tspan>不断为员工供给或创造学习和培训的机会，内</tspan><tspan x="677.8" dy="14.2">部互相学习，互相提高，努力把公司建成平谷</tspan><tspan x="677.8" dy="14.2">地计算机的权威机构。</tspan></text></g>
<g id="l2-f2"><text class="t" x="677.8" y="2191"><tspan>职工培训工作是人力资源开发、干部队伍建设</tspan><tspan x="677.8" dy="14.2">与企业文化建设的重要资料，经过培训，能够</tspan><tspan x="677.8" dy="14.2">统一目标、统一认识、统一步调，提高企业的</tspan><tspan x="677.8" dy="14.2">凝凝聚力、向心力和战斗力。树立学习风气，</tspan><tspan x="677.8" dy="14.2">不懂得要问，不会的要学。</tspan></text></g>
<g id="l2-f3"><text class="t" x="843" y="2296.5">培训资料：</text></g>
<g id="l2-g"><text class="t" x="808.5" y="2345"><tspan>一、爱岗敬业：回顾历史、展望未来，了解企</tspan><tspan x="808.5" dy="14.2">业的光荣传统与奋斗目标，增强使命感与职责</tspan><tspan x="808.5" dy="14.2">感，培养主人翁意识。</tspan></text></g>
<g id="l2-h"><text class="t" x="808.5" y="2423"><tspan>二、岗位职责：学习公司制度、员工纪律，明</tspan><tspan x="808.5" dy="14.2">确岗位职责、行为规范。</tspan></text></g>
<g id="l2-i"><text class="t" x="808.5" y="2779"><tspan>三、岗位技能：学习从业技能、工作流程及在</tspan><tspan x="808.5" dy="14.2">岗成才的方法。</tspan></text></g>
<g id="l2-i1"><text class="t" x="722.7" y="2610">培训方式：</text></g>
<g id="l2-i1a"><text class="t" x="497" y="2486">1、公司内部定期不定期安排员工培训。</text></g>
<g id="l2-i1b"><text class="t" x="470" y="2535"><tspan>2、进取参与中心或公司组织的管理人员、技</tspan><tspan x="470" dy="14.2">术员和全体员工的培训活动。</tspan></text></g>
<g id="l2-i1c"><text class="t" x="470" y="2728"><tspan>3、培训目标：为员工在岗成才创造条件，为</tspan><tspan x="470" dy="14.2">企业供给员工积累。</tspan></text></g>
<g id="l2-i1c1"><text class="t" x="219" y="2598"><tspan>六、建立一支充满活力、具有团队精神的团体</tspan><tspan x="219" dy="14.2">，实行目标责任制，把任务分解到各部门、每</tspan><tspan x="219" dy="14.2">个员工身上，并把每位员工的工资、奖金与部</tspan><tspan x="219" dy="14.2">门的业绩挂钩，让每个员工工作起来就有压力</tspan><tspan x="219" dy="14.2">，有压力才有动力，人最怕的就是没有压力</tspan><tspan x="219" dy="14.2">，没有动力。</tspan></text></g>
<g id="l2-i1c2"><text class="t" x="219" y="2717"><tspan>七、高科技企业发展日新月异，尤其我们这个</tspan><tspan x="219" dy="14.2">行业，知识更新换代十分迅速，可以说一天不</tspan><tspan x="219" dy="14.2">学习就会落后于人，这就要求我们的每位职工</tspan><tspan x="219" dy="14.2">都要不断学习、不断进步。在这里我想引用大</tspan><tspan x="219" dy="14.2">家常说的一句话：活到老、学到老。</tspan></text></g>
<g id="l2-i1c3"><text class="t" x="219" y="2822.6"><tspan>八、公司下达的各项任务，我们都要按时按量</tspan><tspan x="219" dy="14.2">地完成，遇到困难不退缩，要想尽办法努力去</tspan><tspan x="219" dy="14.2">克服和解决。</tspan></text></g>
<g id="l2-i2"><text class="t" x="557" y="2948.5"><tspan>今后怎样办，我想，绝不能辜负信息中心的各</tspan><tspan x="557" dy="14.2">位领导和30名职工对自我的殷切期望和支持</tspan><tspan x="557" dy="14.2">，必须要努力做到以下两点：</tspan></text></g>
<g id="l2-i2a"><text class="t" x="300.6" y="2913"><tspan>一是要解放思想放开手脚大干，力争当一名合</tspan><tspan x="300.6" dy="14.2">格的领导。</tspan></text></g>
<g id="l2-i2b"><text class="t" x="300.6" y="2990"><tspan>二是要不断提高自身素质，提高工作本事，和</tspan><tspan x="300.6" dy="14.2">大家一道把公司建成在平谷地规模最大、品种</tspan><tspan x="300.6" dy="14.2">最全、服务最佳的一流it企业而努力。</tspan></text></g>

<g id="l4-a"><text class="t" x="952.7" y="3117">一、数据分析：</text></g>
<g id="l4-a1"><text class="t" x="833.8" y="3067.6">1、季度任务进度；</text></g>
<g id="l4-a2"><text class="t" x="778.8" y="3117">2、未按计划的客户网点列表；</text></g>
<g id="l4-a3"><text class="t" x="833.8" y="3165.6">3、特殊项目进度；</text></g>
<g id="l4-b"><text class="t" x="896.6" y="3298.7">二、本月份销售业绩分解：</text></g>
<g id="l4-b1"><text class="t" x="645" y="3214.6"><tspan>1、本月销量分解客户列表，并标注匹配的主</tspan><tspan x="645" dy="14.2">要政策；</tspan></text></g>
<g id="l4-b2"><text class="t" x="668" y="3277.6">2、实地拜访客户类表，并标注主要工作；</text></g>
<g id="l4-b3"><text class="t" x="679.5" y="3326.6">3、促销活动安排及促销人员调用列表；</text></g>
<g id="l4-b4"><text class="t" x="756" y="3375">4、特殊项目销售分解；</text></g>
<g id="l4-c"><text class="t" x="952.7" y="3483.5">三、问题分析：</text></g>
<g id="l4-c1"><text class="t" x="700" y="3423"><tspan>1、问题的销售网点列表，并标注问题点及产</tspan><tspan x="700" dy="14.2">生的；</tspan></text></g>
<g id="l4-c2"><text class="t" x="767.6" y="3486.7">2、对产生的问题有解决的办法；</text></g>
<g id="l4-c3"><text class="t" x="756" y="3535.7">3、销售环节的问题，及解决建议；</text></g>
<g id="l4-d"><text class="t" x="808.5" y="3584.7"><tspan>四、销售月工作计划中将六月配套工作项目计</tspan><tspan x="808.5" dy="14.2">划及地区、网点、日程安排列表；</tspan></text></g>
<g id="l4-e"><text class="t" x="963" y="3672">五、增长点：</text></g>
<g id="l4-e1"><text class="t" x="790" y="3647.6">1、销量增长网点列表及措施；</text></g>
<g id="l4-e2"><text class="t" x="715" y="3696">2、新客户、新项目拓展地区网点类表及日程</text></g>
<g id="l4-f"><text class="t" x="973.5" y="3918">六、改进：</text></g>
<g id="l4-f1"><text class="t" x="778.8" y="3745">1、对公司流程、制度的改进建议；</text></g>
<g id="l4-f2"><text class="t" x="759" y="4091.4">2、政策措施、资源调配的改进建议；</text></g>
<g id="l4-f2-1"><text class="t" x="507.7" y="3794"><tspan>1，制度：严格执行所制定的关于考勤制度，</tspan><tspan x="507.7" dy="14.2">车辆安全制度，车辆和装潢提成分配制度，招</tspan><tspan x="507.7" dy="14.2">聘制度，值班制度等维护榆次网点保证正常运</tspan><tspan x="507.7" dy="14.2">作和高效运转的制度。</tspan></text></g>
<g id="l4-f2-2"><text class="t" x="523.5" y="3885">2，卫生：展厅和车辆卫生一直长抓不懈。</text></g>
<g id="l4-f2-3"><text class="t" x="507.7" y="3934.5"><tspan>3，人员：和成总，人力资源部，网管部商量</tspan><tspan x="507.7" dy="14.2">合计，把人员空缺填补满。</tspan></text></g>
<g id="l4-f2-4"><text class="t" x="507.7" y="3997"><tspan>4，库存：和成总，网管部郭经理以及各品牌</tspan><tspan x="507.7" dy="14.2">经理合计库存结构，以及制度相关应急办法。</tspan></text></g>
<g id="l4-f2-5"><text class="t" x="507.7" y="4060"><tspan>5，客户：主要攻关大客户(目前进展情况，将</tspan><tspan x="507.7" dy="14.2">另表向公司相关负责人汇报)。</tspan></text></g>
<g id="l4-f2-6"><text class="t" x="589.7" y="4123">6，销量：至少完成台零售。</text></g>
<g id="l4-f2-7"><text class="t" x="523.5" y="4172">7，配合：配合总部组织的节油大赛活动。</text></g>
<g id="l4-f2-8"><text class="t" x="507.7" y="4220.5"><tspan>8，学习：学习凯威的配置和价格，以尽快实</tspan><tspan x="507.7" dy="14.2">现凯威车型的销售。</tspan></text></g>
<g id="l4-f2-9"><text class="t" x="507.7" y="4283"><tspan>9，外拓：重点对制药，副食行业等大中型企</tspan><tspan x="507.7" dy="14.2">业进行开发。争取开发C+客户，并上报网管</tspan><tspan x="507.7" dy="14.2">部备案。</tspan></text></g>
<g id="l4-f2-10"><text class="t" x="507.7" y="4360.8"><tspan>10，关怀：给老客户以及重点客户发问候短</tspan><tspan x="507.7" dy="14.2">信，寄送凯威资料</tspan></text></g>
</g>
</svg>
